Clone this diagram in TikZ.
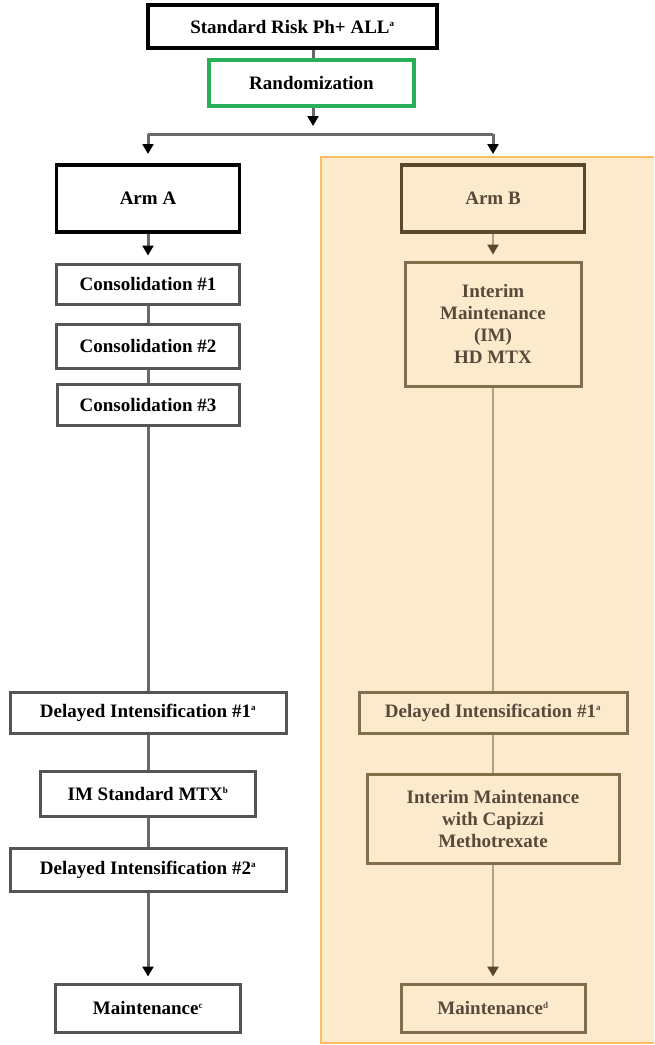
\documentclass[tikz,border=0pt]{standalone}
\usepackage{fontspec}
\setmainfont{Liberation Serif}
\usetikzlibrary{arrows.meta}
\definecolor{armgreen}{RGB}{40,175,90}
\definecolor{panelfill}{RGB}{252,234,205}
\definecolor{paneledge}{RGB}{253,190,95}
\definecolor{leftedge}{RGB}{85,85,85}
\definecolor{leftline}{RGB}{105,105,105}
\definecolor{rightedge}{RGB}{130,110,75}
\definecolor{rightline}{RGB}{180,160,125}
\definecolor{rightdark}{RGB}{90,72,45}
\definecolor{righttext}{RGB}{88,74,58}
\newcommand{\sups}[1]{\textsuperscript{\fontsize{9}{9}\selectfont #1}}
\tikzset{
  box/.style={draw, line width=3pt, align=center, inner sep=2pt,
    font=\fontsize{19}{22}\selectfont\bfseries},
  lbox/.style={box, draw=leftedge, fill=white, text=black},
  rbox/.style={box, draw=rightedge, fill=panelfill, text=righttext},
  lconn/.style={draw=leftline, line width=3pt},
  rconn/.style={draw=rightline, line width=2.4pt},
  ltip/.style={lconn, arrows={-{Triangle[width=11pt,length=10pt,color=black,fill=black]}}},
  rtip/.style={rconn, arrows={-{Triangle[width=11pt,length=10pt,color=rightdark,fill=rightdark]}}},
}
\begin{document}
\begin{tikzpicture}[x=1pt,y=-1pt]
\useasboundingbox (0,0) rectangle (654,1045);
\begin{scope}
\clip (0,0) rectangle (654,1045);
% shaded panel behind Arm B
\draw[fill=panelfill, draw=paneledge, line width=2.4pt] (321,157) rectangle (670,1043);
\end{scope}

% top of the chart
\node[box, draw=black, line width=3.6pt, fill=white, minimum width=289pt, minimum height=43pt]
  (ph) at (292.5,26.5) {Standard Risk Ph+ ALL\sups{a}};
\node[box, draw=armgreen, line width=3.2pt, fill=white, minimum width=205pt, minimum height=46pt]
  (rand) at (311.5,83) {Randomization};

% Arm A column
\node[box, draw=black, line width=3.8pt, fill=white, minimum width=183pt, minimum height=67pt]
  (armA) at (148,198.5) {Arm A};
\node[lbox, minimum width=183pt, minimum height=40pt] (c1) at (148,284) {Consolidation \#1};
\node[lbox, minimum width=183pt, minimum height=44pt] (c2) at (148,346) {Consolidation \#2};
\node[lbox, minimum width=182pt, minimum height=41pt] (c3) at (148,404.5) {Consolidation \#3};
\node[lbox, minimum width=276pt, minimum height=41pt] (diA1) at (148,712.5) {Delayed Intensification \#1\sups{a}};
\node[lbox, minimum width=215pt, minimum height=45pt] (imA) at (148,793.5) {IM Standard MTX\sups{b}};
\node[lbox, minimum width=276pt, minimum height=43pt] (diA2) at (148,869.5) {Delayed Intensification \#2\sups{a}};
\node[lbox, minimum width=185pt, minimum height=48pt] (mA) at (148,1008) {Maintenance\sups{c}};

% Arm B column
\node[box, draw=rightdark, line width=3.6pt, fill=panelfill, text=righttext, minimum width=183pt, minimum height=67pt]
  (armB) at (493,198.5) {Arm B};
\node[rbox, minimum width=176pt, minimum height=124pt] (imB) at (493,324)
  {Interim\\Maintenance\\(IM)\\HD MTX};
\node[rbox, minimum width=268pt, minimum height=41pt] (diB1) at (493,712.5) {Delayed Intensification \#1\sups{a}};
\node[rbox, minimum width=252pt, minimum height=89pt] (capB) at (493,818.5)
  {Interim Maintenance\\with Capizzi\\Methotrexate};
\node[rbox, minimum width=184pt, minimum height=48pt] (mB) at (493,1008) {Maintenance\sups{d}};

% split after randomization
\coordinate (split) at (313,126);
\coordinate (splitL) at (148,134);
\coordinate (splitR) at (493,134);
\coordinate (tipL) at (148,154);
\coordinate (tipR) at (493,154);
\draw[lconn] (ph.south -| split) -- (rand.north -| split);
\draw[ltip] (rand.south -| split) -- (split);
\draw[lconn] (splitL) -- (splitR);
\draw[ltip] (splitL) -- (tipL);
\draw[ltip] (splitR) -- (tipR);

% Arm A connectors
\draw[ltip, shorten >=7pt] (armA.south) -- (c1.north);
\draw[lconn] (c1.south) -- (c2.north);
\draw[lconn] (c2.south) -- (c3.north);
\draw[lconn] (c3.south) -- (diA1.north);
\draw[lconn] (diA1.south) -- (imA.north);
\draw[lconn] (imA.south) -- (diA2.north);
\draw[ltip, shorten >=6pt] (diA2.south) -- (mA.north);

% Arm B connectors
\draw[rtip, shorten >=6pt] (armB.south) -- (imB.north);
\draw[rconn] (imB.south) -- (diB1.north);
\draw[rconn] (diB1.south) -- (capB.north);
\draw[rtip, shorten >=6pt] (capB.south) -- (mB.north);
\end{tikzpicture}
\end{document}
